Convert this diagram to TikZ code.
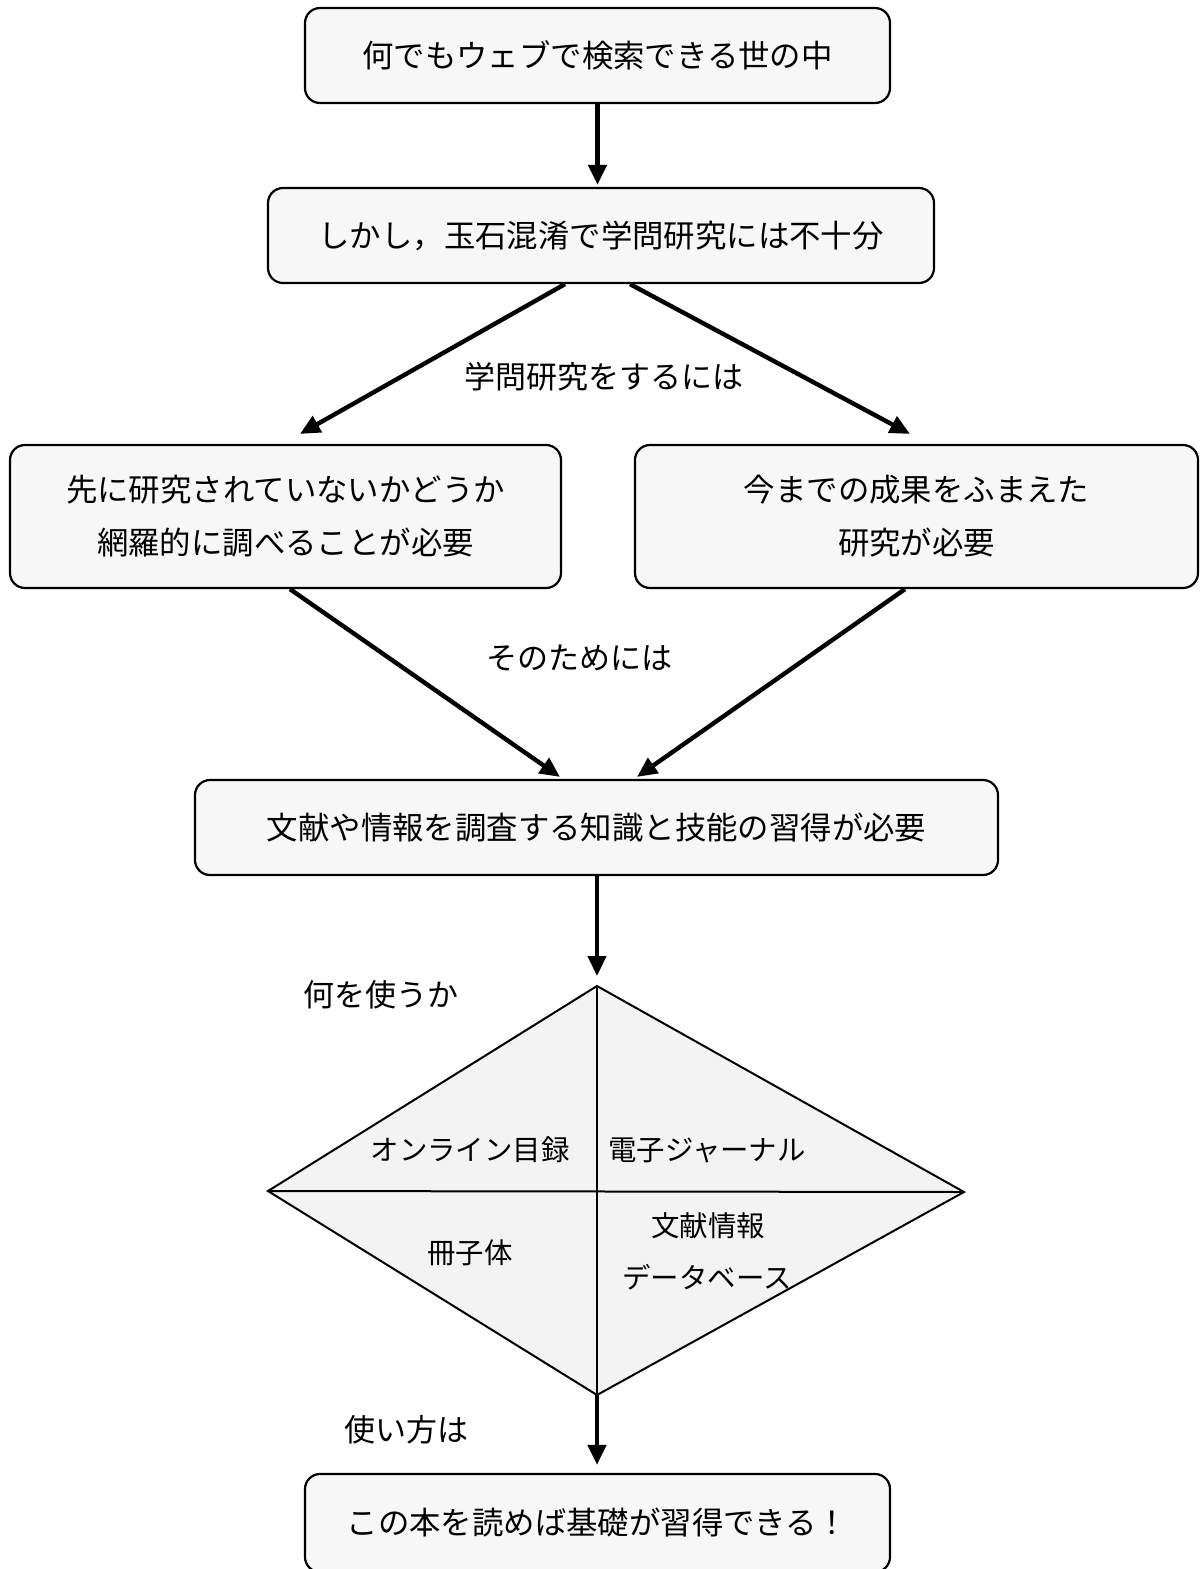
\documentclass[tikz,border=0pt]{standalone}
\usepackage{fontspec}
\setmainfont{Noto Sans CJK JP}
\usetikzlibrary{arrows.meta,calc}
\definecolor{boxfill}{HTML}{F7F7F7}
\definecolor{diafill}{HTML}{F3F3F3}
\tikzset{
  box/.style={draw=black, line width=1.1pt, rounded corners=7.5pt, fill=boxfill,
    align=center, inner sep=0pt, font=\fontsize{15.7}{26.5}\selectfont},
  lbl/.style={inner sep=0pt, font=\fontsize{15.5}{18}\selectfont},
  dlbl/.style={inner sep=0pt, font=\fontsize{14.2}{17}\selectfont},
  conn/.style={line width=2.2pt, -{Triangle[length=10pt,width=9pt]}},
}
\begin{document}
\begin{tikzpicture}[x=0.5pt,y=-0.5pt]
\useasboundingbox (0,0) rectangle (1202,1569);
\fill[white] (0,0) rectangle (1202,1569);

\node[box, minimum width=292.5pt, minimum height=47.5pt] (b1) at (597.5,55.5) {何でもウェブで検索できる世の中};
\node[box, minimum width=333pt, minimum height=47.5pt] (b2) at (601,235.5) {しかし，玉石混淆で学問研究には不十分};
\node[box, minimum width=275.5pt, minimum height=71.5pt] (b3) at (285.5,516.5) {先に研究されていないかどうか\\網羅的に調べることが必要};
\node[box, minimum width=281.5pt, minimum height=71.5pt] (b4) at (916.5,516.5) {今までの成果をふまえた\\研究が必要};
\node[box, minimum width=401.5pt, minimum height=47.5pt] (b5) at (596.5,827.5) {文献や情報を調査する知識と技能の習得が必要};
\node[box, minimum width=292.5pt, minimum height=49pt] (b6) at (597.5,1523) {この本を読めば基礎が習得できる！};

% diamond
\coordinate (dt) at (597,986);
\coordinate (dl) at (268,1191);
\coordinate (dr) at (964,1192);
\coordinate (db) at (597,1395);
\coordinate (dc) at (597,1191.5);
\fill[diafill] (dt) -- (dr) -- (db) -- (dl) -- cycle;
\draw[line width=1pt] (dt) -- (dr) -- (db) -- (dl) -- cycle;
\draw[line width=1pt] (dt) -- (db);
\draw[line width=1pt] (dl) -- (dr);

\node[dlbl] (t1) at (470,1150) {オンライン目録};
\node[dlbl] (t2) at (707,1150) {電子ジャーナル};
\node[dlbl] (t3) at (470,1253) {冊子体};
\node[dlbl] (t4) at (708,1226) {文献情報};
\node[dlbl] (t5) at (707,1277) {データベース};

% labels
\node[lbl] (l1) at (604,377) {学問研究をするには};
\node[lbl] (l2) at (579,658) {そのためには};
\node[lbl] (l3) at (381,995) {何を使うか};
\node[lbl] (l4) at (406,1430) {使い方は};

% connectors
\draw[conn] (b1.south) -- ([yshift=1pt]b1.south |- b2.north);
\draw[conn] ([xshift=-18pt]b2.south) -- ([xshift=7.25pt,yshift=5pt]b3.north);
\draw[conn] ([xshift=14.5pt]b2.south) -- ([xshift=-3.25pt,yshift=5pt]b4.north);
\draw[conn] ([xshift=2.25pt]b3.south) -- ([xshift=-18.25pt,yshift=1pt]b5.north);
\draw[conn] ([xshift=-5.75pt]b4.south) -- ([xshift=20.25pt,yshift=1pt]b5.north);
\draw[conn] (dt |- b5.south) -- ([yshift=5pt]dt);
\draw[conn] (db) -- ([yshift=4pt]db |- b6.north);
\end{tikzpicture}
\end{document}
